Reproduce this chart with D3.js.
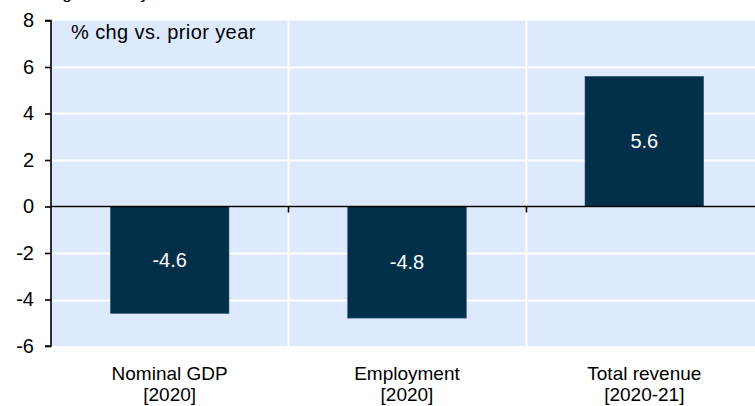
<!DOCTYPE html>
<html>
<head>
<meta charset="utf-8">
<script src="https://cdn.jsdelivr.net/npm/d3@7"></script>
<style>
  body { margin: 0; background: #fff; }
  svg { display: block; font-family: "Liberation Sans", Arial, sans-serif; }
</style>
</head>
<body>
<div id="chart"></div>
<script>
// data
var categories = ['Nominal GDP', 'Employment', 'Total revenue'];
var periods = ['[2020]', '[2020]', '[2020-21]'];
var values = [-4.6, -4.8, 5.6];
var yTicks = [-6, -4, -2, 0, 2, 4, 6, 8];

var W = 755, H = 406;
var m = { top: 20.5, left: 51, right: -8, bottom: 60 };

var svg = d3.select('#chart').append('svg')
  .attr('width', W)
  .attr('height', H);

// title, mostly cut off at the top edge (as in the source)
svg.append('text')
  .attr('x', 48)
  .attr('y', -1)
  .attr('font-size', 17)
  .attr('fill', '#000')
  .text('Figure 1: Key indicators');

var x = d3.scaleBand()
  .domain(categories)
  .range([m.left, W - m.right])
  .paddingInner(0)
  .paddingOuter(0);

var y = d3.scaleLinear()
  .domain([-6, 8])
  .range([H - m.bottom, m.top]);

// plot background
svg.append('rect')
  .attr('x', m.left)
  .attr('y', y(8))
  .attr('width', W - m.right - m.left)
  .attr('height', y(-6) - y(8))
  .attr('fill', '#dde9fc');

// horizontal gridlines
svg.append('g').selectAll('line')
  .data(yTicks.filter(function(d) { return d !== -6 && d !== 8; }))
  .enter().append('line')
  .attr('x1', m.left)
  .attr('x2', W)
  .attr('y1', function(d) { return Math.round(y(d)) + 0.5; })
  .attr('y2', function(d) { return Math.round(y(d)) + 0.5; })
  .attr('stroke', '#fff')
  .attr('stroke-width', 2);

// vertical gridlines between categories
var bounds = categories.slice(1).map(function(c) { return x(c); });
svg.append('g').selectAll('line')
  .data(bounds)
  .enter().append('line')
  .attr('x1', function(d) { return Math.round(d) + 0.5; })
  .attr('x2', function(d) { return Math.round(d) + 0.5; })
  .attr('y1', y(8))
  .attr('y2', y(-6))
  .attr('stroke', '#fff')
  .attr('stroke-width', 2);

// bars
var bw = x.bandwidth() * 0.5;
svg.append('g').selectAll('rect')
  .data(values)
  .enter().append('rect')
  .attr('x', function(d, i) { return x(categories[i]) + (x.bandwidth() - bw) / 2; })
  .attr('y', function(d) { return y(Math.max(0, d)); })
  .attr('width', bw)
  .attr('height', function(d) { return Math.abs(y(d) - y(0)); })
  .attr('fill', '#02304b')
  .attr('stroke', '#3a5f78')
  .attr('stroke-width', 0.6);

// value labels
svg.append('g').selectAll('text')
  .data(values)
  .enter().append('text')
  .attr('x', function(d, i) { return x(categories[i]) + x.bandwidth() / 2; })
  .attr('y', function(d) { return y(d / 2); })
  .attr('dy', '0.35em')
  .attr('text-anchor', 'middle')
  .attr('font-size', 20)
  .attr('fill', '#fff')
  .text(function(d) { return d3.format('.1f')(d).replace('−', '-'); });

// zero line with small ticks at category bounds
var zy = Math.round(y(0)) + 0.5;
svg.append('line')
  .attr('x1', m.left)
  .attr('x2', W)
  .attr('y1', zy)
  .attr('y2', zy)
  .attr('stroke', '#000')
  .attr('stroke-width', 1.6);

svg.append('g').selectAll('line')
  .data(bounds)
  .enter().append('line')
  .attr('x1', function(d) { return Math.round(d) + 0.5; })
  .attr('x2', function(d) { return Math.round(d) + 0.5; })
  .attr('y1', zy)
  .attr('y2', zy + 6)
  .attr('stroke', '#000')
  .attr('stroke-width', 1.6);

// y axis
var yAxis = d3.axisLeft(y)
  .tickValues(yTicks)
  .tickSize(6)
  .tickPadding(11)
  .tickFormat(function(d) { return String(d); });

var ax = svg.append('g')
  .attr('transform', 'translate(' + m.left + ',0)')
  .call(yAxis);
ax.select('.domain').attr('stroke', '#000').attr('stroke-width', 1.6)
  .attr('d', 'M-6,' + y(8) + 'H0V' + y(-6) + 'H-6');
ax.selectAll('.tick line').attr('stroke', '#000').attr('stroke-width', 1.6);
ax.selectAll('.tick text')
  .attr('font-size', 20)
  .attr('fill', '#000')
  .attr('font-family', '"Liberation Sans", Arial, sans-serif');

// unit note
svg.append('text')
  .attr('x', 71)
  .attr('y', 39)
  .attr('font-size', 20)
  .attr('letter-spacing', 0.4)
  .attr('fill', '#000')
  .text('% chg vs. prior year');

// category labels
var xl = svg.append('g').selectAll('text')
  .data(categories)
  .enter().append('text')
  .attr('x', function(d) { return x(d) + x.bandwidth() / 2; })
  .attr('y', 380)
  .attr('text-anchor', 'middle')
  .attr('font-size', 19)
  .attr('fill', '#000');
xl.append('tspan').text(function(d) { return d; });
xl.append('tspan')
  .attr('x', function(d) { return x(d) + x.bandwidth() / 2; })
  .attr('dy', 21)
  .text(function(d, i) { return periods[i]; });
</script>
</body>
</html>
